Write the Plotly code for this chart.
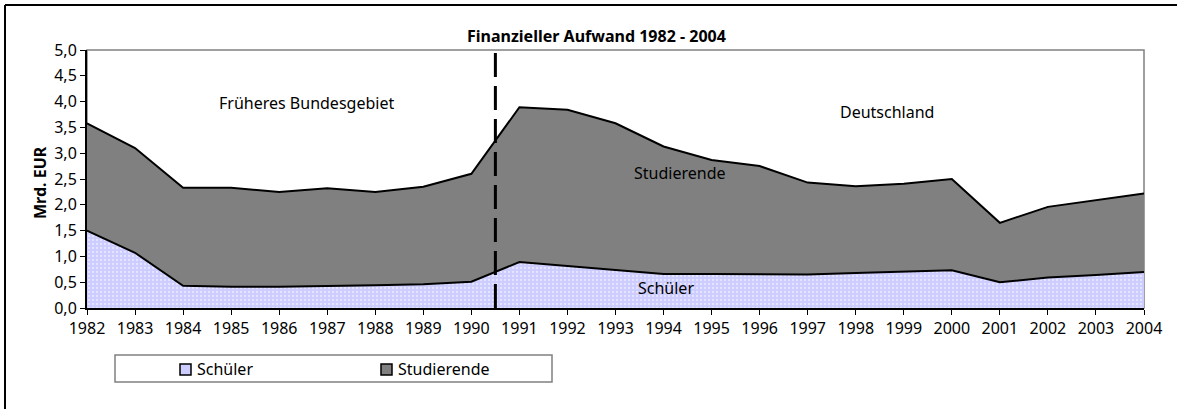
import plotly.graph_objects as go

years = list(range(1982, 2005))
schueler = [1.50, 1.07, 0.43, 0.41, 0.41, 0.42, 0.44, 0.46, 0.51, 0.89, 0.81, 0.73,
            0.66, 0.66, 0.66, 0.65, 0.68, 0.70, 0.73, 0.50, 0.59, 0.64, 0.70]
gesamt = [3.58, 3.10, 2.33, 2.33, 2.25, 2.32, 2.25, 2.35, 2.60, 3.89, 3.84, 3.58,
          3.13, 2.87, 2.75, 2.43, 2.36, 2.41, 2.50, 1.65, 1.96, 2.09, 2.22]
studierende = [round(g - s, 2) for g, s in zip(gesamt, schueler)]
tick_labels = [str(y) for y in years]
y_ticks = [0, 0.5, 1, 1.5, 2, 2.5, 3, 3.5, 4, 4.5, 5]

W, H = 1177, 409
L, R, T, B = 87, 1144, 50, 308
FONT = "Noto Sans"

def px(x):
    return (x - L) / (R - L)

def py(y):
    return (B - y) / (B - T)

fig = go.Figure()
fig.add_trace(go.Scatter(
    x=years, y=schueler, name="Schüler", stackgroup="one",
    line=dict(color="black", width=2),
    fillcolor="#ccccff",
    fillpattern=dict(shape=".", bgcolor="#ccccff", fgcolor="white", size=4, solidity=0.25),
    showlegend=False, hoverinfo="x+y"))
fig.add_trace(go.Scatter(
    x=years, y=studierende, name="Studierende", stackgroup="one",
    line=dict(color="black", width=2),
    fillcolor="#808080",
    showlegend=False, hoverinfo="x+y"))

shapes = [
    dict(type="rect", xref="paper", yref="paper", x0=0, x1=1, y0=0, y1=1,
         line=dict(color="#808080", width=1.5), layer="below"),
    dict(type="line", xref="x", yref="paper", x0=1990.5, x1=1990.5, y0=0, y1=py(52),
         line=dict(color="black", width=3, dash="24px,9px")),
    dict(type="line", xref="paper", yref="paper", x0=px(5), x1=px(1177), y0=py(5), y1=py(5),
         line=dict(color="black", width=2)),
    dict(type="line", xref="paper", yref="paper", x0=px(5), x1=px(5), y0=py(5), y1=py(409),
         line=dict(color="black", width=2)),
    dict(type="rect", xref="paper", yref="paper", x0=px(115), x1=px(552), y0=py(382), y1=py(355),
         line=dict(color="#808080", width=1.5), fillcolor="white"),
    dict(type="rect", xref="paper", yref="paper", x0=px(180), x1=px(191), y0=py(375), y1=py(364),
         line=dict(color="black", width=1.5), fillcolor="#ccccff"),
    dict(type="rect", xref="paper", yref="paper", x0=px(381), x1=px(392), y0=py(375), y1=py(364),
         line=dict(color="black", width=1.5), fillcolor="#808080"),
]

def ann(text, x, y, size=16, bold=False, xanchor="center", angle=0):
    return dict(text=f"<b>{text}</b>" if bold else text, xref="paper", yref="paper",
                x=px(x), y=py(y), xanchor=xanchor, yanchor="middle", showarrow=False,
                textangle=angle, font=dict(family=FONT, size=size, color="black"))

annotations = [
    ann("Finanzieller Aufwand 1982 - 2004", 596, 36, size=16, bold=True),
    ann("Früheres Bundesgebiet", 306, 103),
    ann("Deutschland", 887, 112),
    ann("Studierende", 680, 173),
    ann("Schüler", 666, 288),
    ann("Mrd. EUR", 40, 183, size=16, bold=True, angle=-90),
    ann("Schüler", 195, 369, xanchor="left"),
    ann("Studierende", 396, 369, xanchor="left"),
]

fig.update_layout(
    width=W, height=H,
    margin=dict(l=L, r=W - R, t=T, b=H - B, pad=0),
    paper_bgcolor="white", plot_bgcolor="white",
    separators=",.",
    showlegend=False,
    shapes=shapes, annotations=annotations,
    font=dict(family=FONT, size=16, color="black"),
    xaxis=dict(range=[1982, 2004], tickvals=years, ticktext=tick_labels,
               showgrid=False, zeroline=False, showline=True, linecolor="black", linewidth=2,
               ticks="outside", ticklen=5, tickcolor="black", tickwidth=1,
               tickfont=dict(family=FONT, size=16)),
    yaxis=dict(range=[0, 5], tickvals=y_ticks, tickformat=".1f",
               showgrid=False, zeroline=False, showline=True, linecolor="black", linewidth=2,
               ticks="outside", ticklen=5, tickcolor="black", tickwidth=1,
               tickfont=dict(family=FONT, size=16)),
)

fig.write_html("out.html", config={"displayModeBar": False},
               post_script="document.body.style.margin='0';document.body.style.overflow='hidden';")
